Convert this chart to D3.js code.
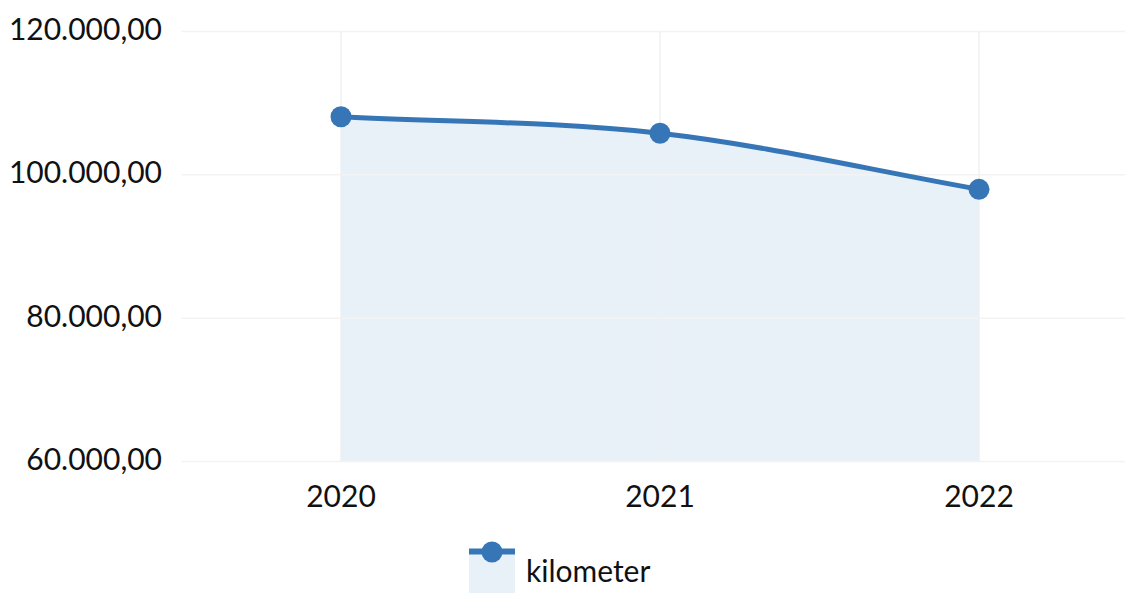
<!DOCTYPE html>
<html><head><meta charset="utf-8">
<script src="https://cdn.jsdelivr.net/npm/d3@7"></script>
<style>body{margin:0;background:#fff}svg{display:block}text{font-family:Lato,"Open Sans",sans-serif;fill:#111;font-weight:400}</style>
</head><body><svg id="c" width="1125" height="593"></svg>
<script>
const categories = ["2020","2021","2022"];
const values = [108100, 105800, 97980];
const yTicks = [60000, 80000, 100000, 120000];
const seriesName = "kilometer";

(function(){
const svg = d3.select("#c");
const pLeft = 181.5, pRight = 1138.5, pTop = 31.5, pBottom = 461.5;
const x = d3.scalePoint().domain(categories).range([pLeft, pRight]).padding(0.5);
const y = d3.scaleLinear().domain([60000, 120000]).range([pBottom, pTop]);
const fmt = v => d3.format(",.2f")(v).replace(/,/g,"#").replace(/\./g,",").replace(/#/g,".");
const color = "#3776b6", fill = "#e8f0f8", grid = "#f3f3f3";

// Chart.js-style monotone cubic interpolation
const pts = values.map((v,i)=>[x(categories[i]), y(v)]);
function monoPath(p, closeTo){
  const n = p.length, d = [], m = [];
  for (let i=0;i<n-1;i++) d.push((p[i+1][1]-p[i][1])/(p[i+1][0]-p[i][0]));
  for (let i=0;i<n;i++){
    if (i===0) m.push(d[0]); else if (i===n-1) m.push(d[n-2]);
    else m.push((d[i-1]*d[i] <= 0) ? 0 : (d[i-1]+d[i])/2);
  }
  for (let i=0;i<n-1;i++){
    if (d[i]===0){ m[i]=0; m[i+1]=0; continue; }
    const a=m[i]/d[i], b=m[i+1]/d[i], s=a*a+b*b;
    if (s>9){ const t=3/Math.sqrt(s); m[i]=t*a*d[i]; m[i+1]=t*b*d[i]; }
  }
  const path = d3.path();
  path.moveTo(p[0][0], p[0][1]);
  for (let i=0;i<n-1;i++){
    const h=(p[i+1][0]-p[i][0])/3;
    path.bezierCurveTo(p[i][0]+h, p[i][1]+m[i]*h, p[i+1][0]-h, p[i+1][1]-m[i+1]*h, p[i+1][0], p[i+1][1]);
  }
  if (closeTo!==undefined){
    path.lineTo(p[n-1][0], closeTo); path.lineTo(p[0][0], closeTo); path.closePath();
  }
  return path.toString();
}

// area
svg.append("path").attr("fill", fill).attr("d", monoPath(pts, y(60000)));

// grid
svg.append("g").selectAll("line").data(yTicks).join("line")
  .attr("x1", pLeft).attr("x2", 1125).attr("y1", d=>y(d)).attr("y2", d=>y(d))
  .attr("stroke", grid).attr("stroke-width", 1.5);
svg.append("g").selectAll("line").data(categories).join("line")
  .attr("x1", d=>x(d)).attr("x2", d=>x(d)).attr("y1", pTop).attr("y2", pBottom)
  .attr("stroke", "#eef0f3").attr("stroke-width", 1.5);

// y labels
svg.append("g").selectAll("text").data(yTicks).join("text")
  .attr("x", 162).attr("y", d=>y(d)).attr("dy", "0.28em")
  .attr("text-anchor", "end").attr("font-size", 30).text(fmt);

// x labels
svg.append("g").selectAll("text").data(categories).join("text")
  .attr("x", d=>x(d)).attr("y", 507).attr("text-anchor", "middle")
  .attr("font-size", 30).text(d=>d);

// line
svg.append("path").attr("fill", "none").attr("stroke", color).attr("stroke-width", 5)
  .attr("d", monoPath(pts));

svg.append("g").selectAll("circle").data(values).join("circle")
  .attr("cx", (d,i)=>x(categories[i])).attr("cy", d=>y(d)).attr("r", 10.5)
  .attr("fill", color);

// legend
const lg = svg.append("g");
lg.append("rect").attr("x", 469).attr("y", 549).attr("width", 46).attr("height", 44).attr("fill", fill);
lg.append("line").attr("x1", 469).attr("x2", 515).attr("y1", 551.5).attr("y2", 551.5).attr("stroke", color).attr("stroke-width", 6);
lg.append("circle").attr("cx", 492).attr("cy", 552).attr("r", 10.5).attr("fill", color);
lg.append("text").attr("x", 526).attr("y", 582).attr("font-size", 30).text(seriesName);
})();
</script></body></html>
